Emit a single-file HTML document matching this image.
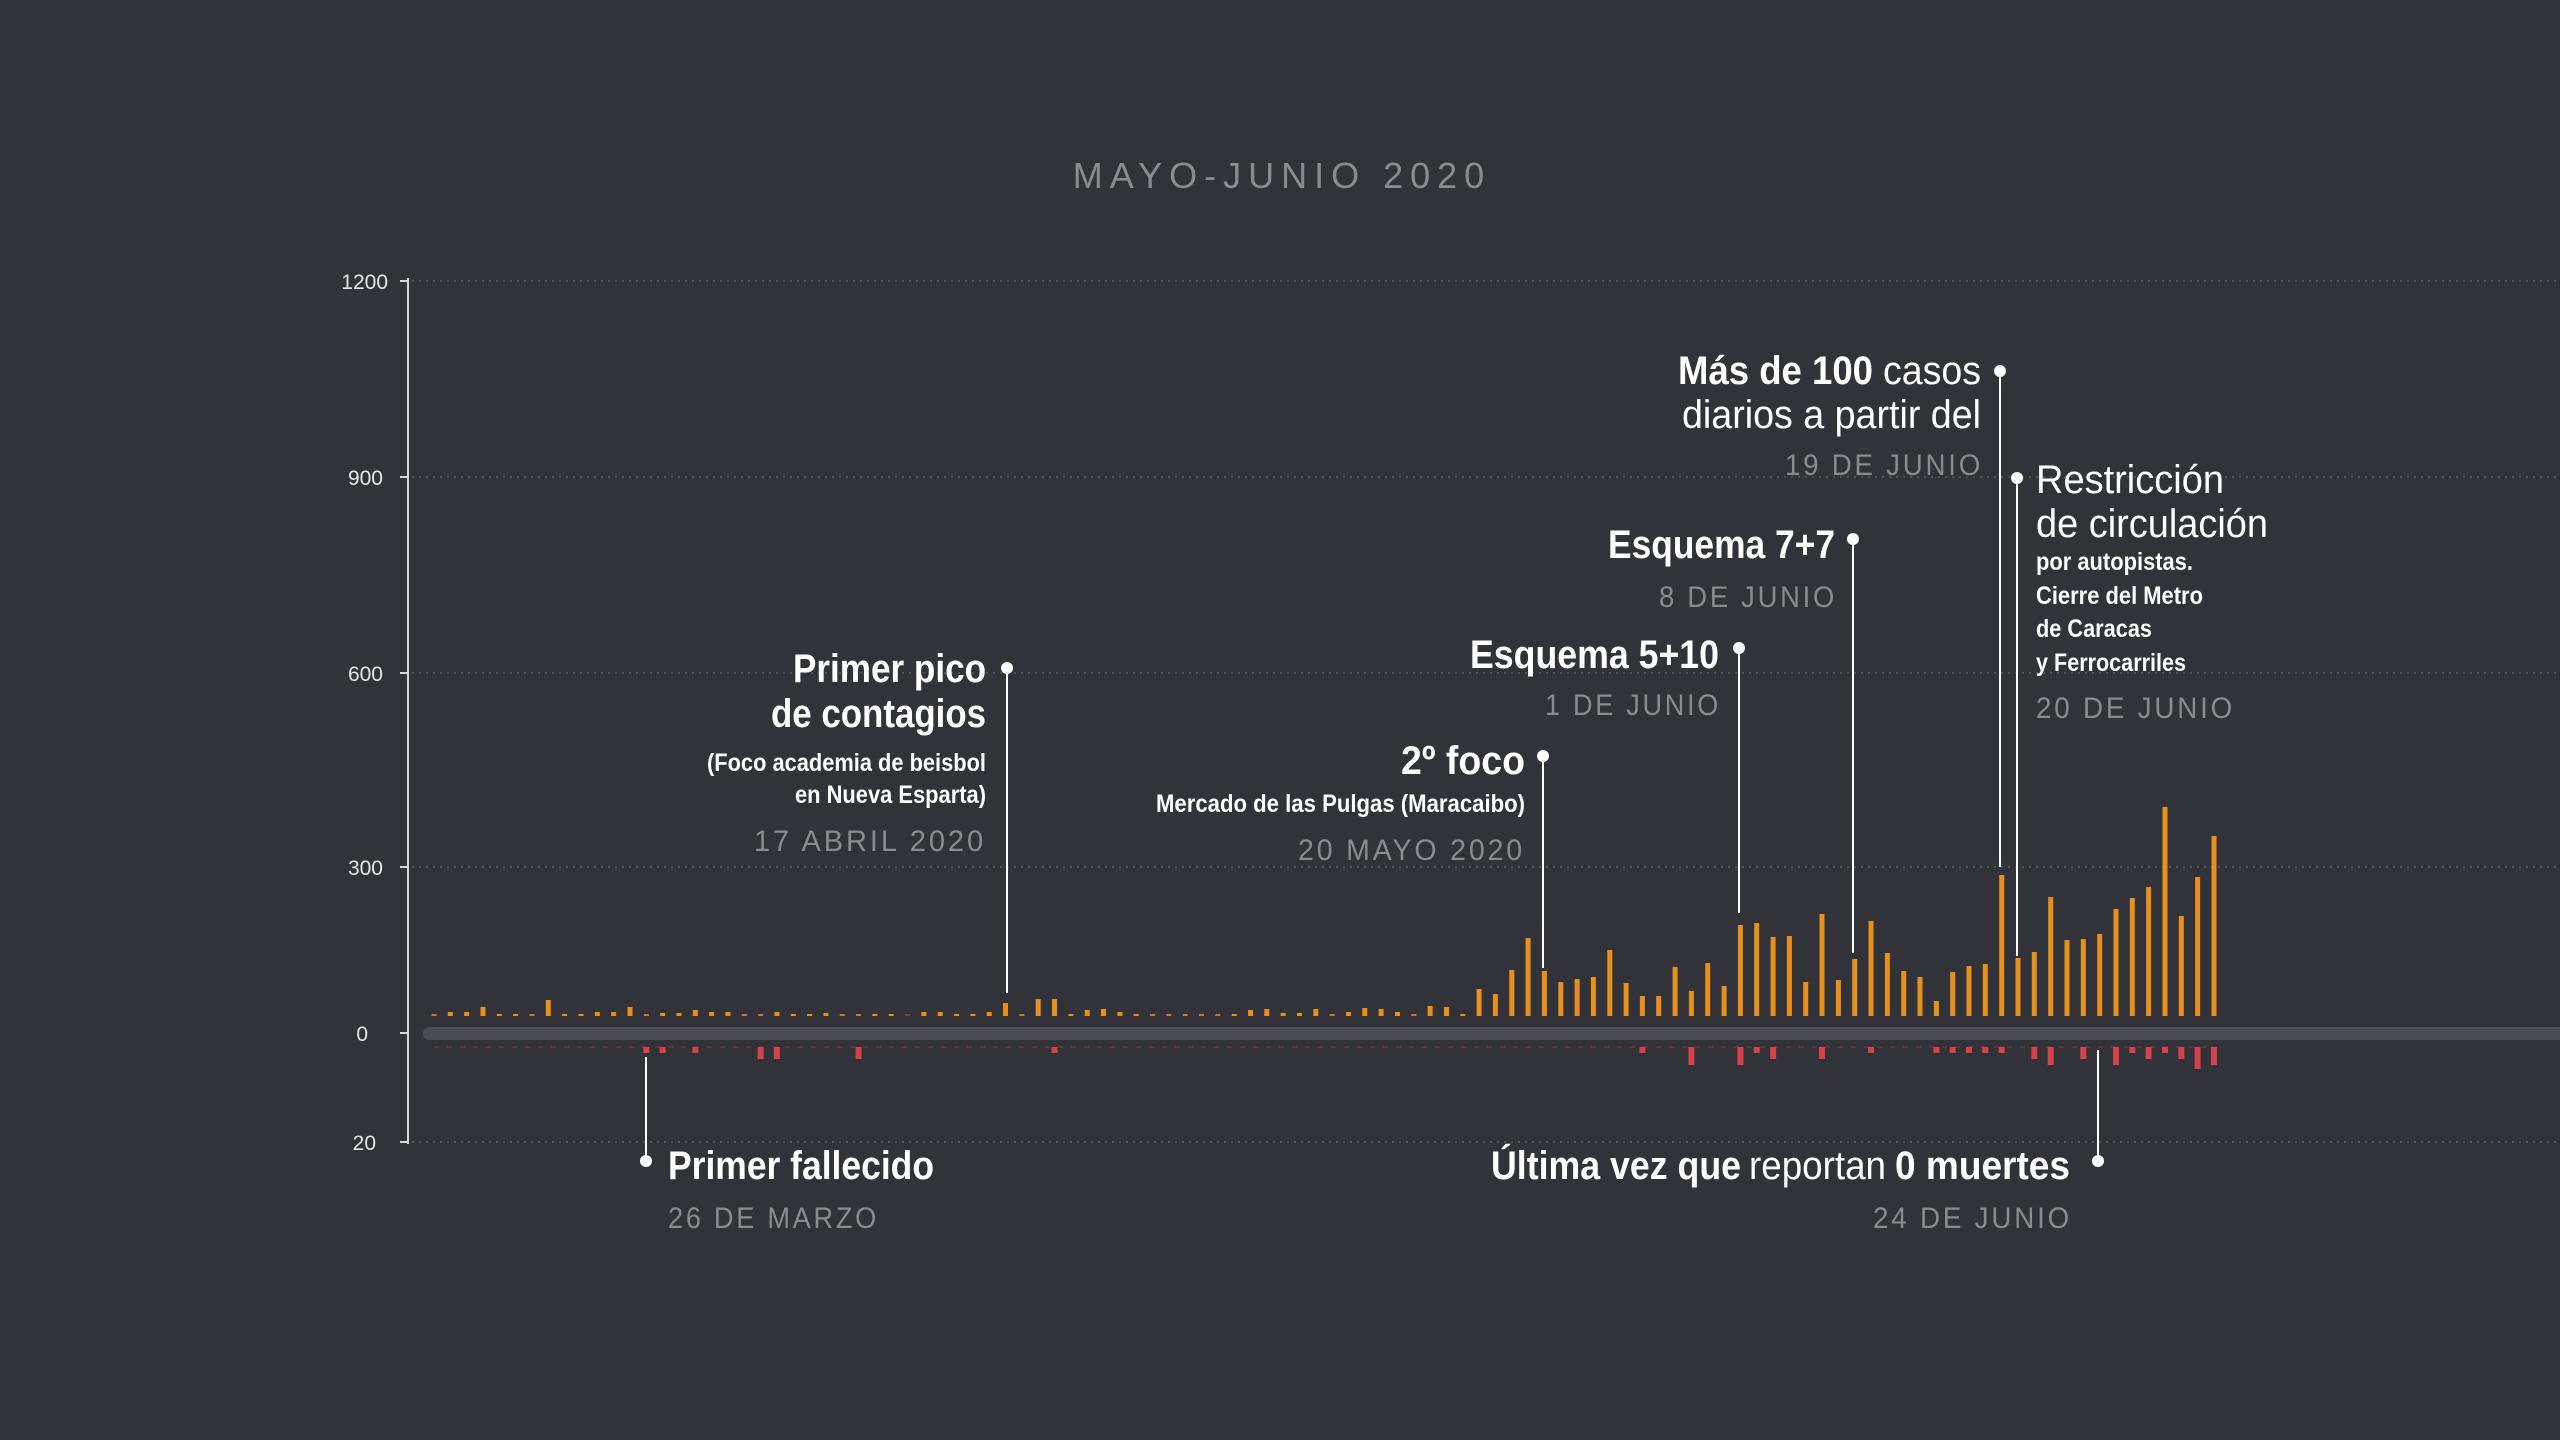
<!DOCTYPE html>
<html><head><meta charset="utf-8"><style>
html,body{margin:0;padding:0;background:#313338;}
svg{display:block}
text{font-family:"Liberation Sans",sans-serif;}
.h{fill:#fff;font-weight:bold;font-size:40px}
.n{fill:#fff;font-weight:normal;font-size:40px}
.s{fill:#fff;font-weight:bold;font-size:25px}
.d{fill:#8a8b8e;font-size:30px;letter-spacing:3px}
.ax{fill:#e6e6e6;font-size:21px}
</style></head><body>
<svg id="c" width="2560" height="1440" viewBox="0 0 2560 1440" xmlns="http://www.w3.org/2000/svg">
<rect width="2560" height="1440" fill="#313338"/>
<text x="1282" y="188" text-anchor="middle" font-size="36" fill="#8a8b8e" letter-spacing="7">MAYO-JUNIO 2020</text>
<g stroke="#5a5c61" stroke-width="1.5" stroke-dasharray="2,5">
<line x1="412" y1="281" x2="2560" y2="281"/><line x1="412" y1="477" x2="2560" y2="477"/>
<line x1="412" y1="673" x2="2560" y2="673"/><line x1="412" y1="867" x2="2560" y2="867"/>
<line x1="412" y1="1142" x2="2560" y2="1142"/>
</g>
<line x1="434" y1="1047" x2="2214" y2="1047" stroke="#6a3a3e" stroke-width="1.5" stroke-dasharray="5,8"/>
<g stroke="#d8d8d8" stroke-width="2"><line x1="408" y1="278" x2="408" y2="1144"/>
<line x1="400" y1="281" x2="408" y2="281"/><line x1="400" y1="477" x2="408" y2="477"/><line x1="400" y1="673" x2="408" y2="673"/><line x1="400" y1="867" x2="408" y2="867"/><line x1="400" y1="1033" x2="408" y2="1033"/><line x1="400" y1="1142" x2="408" y2="1142"/></g>
<g class="ax" text-anchor="end">
<text x="388" y="289" class="ax">1200</text><text x="383" y="485" class="ax">900</text><text x="383" y="681" class="ax">600</text><text x="383" y="875" class="ax">300</text><text x="368" y="1041" class="ax">0</text><text x="376" y="1150" class="ax">20</text></g>
<rect x="423" y="1027" width="2160" height="13" rx="6.5" fill="#4a4c51"/>
<g id="bars"></g>
<g stroke="#fff" stroke-width="2" fill="#fff">
<line x1="1007" y1="668" x2="1007" y2="993"/><circle cx="1007" cy="668" r="6" stroke="none"/>
<line x1="1543" y1="756" x2="1543" y2="968"/><circle cx="1543" cy="756" r="6" stroke="none"/>
<line x1="1739" y1="648" x2="1739" y2="913"/><circle cx="1739" cy="648" r="6" stroke="none"/>
<line x1="1853" y1="539" x2="1853" y2="953"/><circle cx="1853" cy="539" r="6" stroke="none"/>
<line x1="2000" y1="371" x2="2000" y2="867"/><circle cx="2000" cy="371" r="6" stroke="none"/>
<line x1="2017" y1="478" x2="2017" y2="956"/><circle cx="2017" cy="478" r="6" stroke="none"/>
<line x1="646" y1="1057" x2="646" y2="1161"/><circle cx="646" cy="1161" r="6" stroke="none"/>
<line x1="2098" y1="1050" x2="2098" y2="1161"/><circle cx="2098" cy="1161" r="6" stroke="none"/>
</g>
<g>
<text class="h" x="793" y="682" textLength="193" lengthAdjust="spacingAndGlyphs">Primer pico</text>
<text class="h" x="771" y="727" textLength="215" lengthAdjust="spacingAndGlyphs">de contagios</text>
<text class="s" x="707" y="771" textLength="279" lengthAdjust="spacingAndGlyphs">(Foco academia de beisbol</text>
<text class="s" x="795" y="803" textLength="191" lengthAdjust="spacingAndGlyphs">en Nueva Esparta)</text>
<text class="d" x="754" y="851" textLength="232" lengthAdjust="spacingAndGlyphs">17 ABRIL 2020</text>

<text class="h" x="1401" y="774" textLength="124" lengthAdjust="spacingAndGlyphs">2º foco</text>
<text class="s" x="1156" y="812" textLength="369" lengthAdjust="spacingAndGlyphs">Mercado de las Pulgas (Maracaibo)</text>
<text class="d" x="1298" y="860" textLength="227" lengthAdjust="spacingAndGlyphs">20 MAYO 2020</text>

<text class="h" x="1470" y="668" textLength="249" lengthAdjust="spacingAndGlyphs">Esquema 5+10</text>
<text class="d" x="1545" y="715" textLength="176" lengthAdjust="spacingAndGlyphs">1 DE JUNIO</text>

<text class="h" x="1608" y="558" textLength="227" lengthAdjust="spacingAndGlyphs">Esquema 7+7</text>
<text class="d" x="1659" y="607" textLength="178" lengthAdjust="spacingAndGlyphs">8 DE JUNIO</text>

<text class="h" x="1678" y="384" textLength="195" lengthAdjust="spacingAndGlyphs">Más de 100</text>
<text class="n" x="1883" y="384" textLength="98" lengthAdjust="spacingAndGlyphs">casos</text>
<text class="n" x="1682" y="428" textLength="299" lengthAdjust="spacingAndGlyphs">diarios a partir del</text>
<text class="d" x="1785" y="475" textLength="198" lengthAdjust="spacingAndGlyphs">19 DE JUNIO</text>

<text class="n" x="2036" y="493" textLength="188" lengthAdjust="spacingAndGlyphs">Restricción</text>
<text class="n" x="2036" y="537" textLength="232" lengthAdjust="spacingAndGlyphs">de circulación</text>
<text class="s" x="2036" y="570" textLength="157" lengthAdjust="spacingAndGlyphs">por autopistas.</text>
<text class="s" x="2036" y="604" textLength="167" lengthAdjust="spacingAndGlyphs">Cierre del Metro</text>
<text class="s" x="2036" y="637" textLength="116" lengthAdjust="spacingAndGlyphs">de Caracas</text>
<text class="s" x="2036" y="671" textLength="150" lengthAdjust="spacingAndGlyphs">y Ferrocarriles</text>
<text class="d" x="2036" y="718" textLength="199" lengthAdjust="spacingAndGlyphs">20 DE JUNIO</text>

<text class="h" x="668" y="1179" textLength="266" lengthAdjust="spacingAndGlyphs">Primer fallecido</text>
<text class="d" x="668" y="1228" textLength="211" lengthAdjust="spacingAndGlyphs">26 DE MARZO</text>

<text class="h" x="1491" y="1179" textLength="250" lengthAdjust="spacingAndGlyphs">Última vez que</text>
<text class="n" x="1749" y="1179" textLength="137" lengthAdjust="spacingAndGlyphs">reportan</text>
<text class="h" x="1895" y="1179" textLength="175" lengthAdjust="spacingAndGlyphs">0 muertes</text>
<text class="d" x="1873" y="1228" textLength="199" lengthAdjust="spacingAndGlyphs">24 DE JUNIO</text>
</g>
</svg>
<script>
var h=[1,4,4,9,2,2,1,16,2,2,4,4,9,1,3,3,6,4,4,1,1,4,2,2,3,1,1,2,2,0,4,4,2,2,4,13,1,17,17,2,6,7,4,2,1,1,1,1,1,2,6,7,3,3,7,1,4,8,7,4,1,10,9,2,
27,22,46,78,45,34,37,39,66,33,20,20,49,25,53,30,91,93,79,80,34,102,36,57,95,63,45,39,15,44,50,52,141,58,64,119,76,77,82,107,118,129,209,100,139,180];
var d={13:6,14:6,16:6,20:12,21:12,26:12,38:6,74:6,77:18,80:18,81:6,82:12,85:12,88:6,92:6,93:6,94:6,95:6,96:6,98:12,99:18,101:12,103:18,104:6,105:12,106:6,107:12,108:22,109:18};
var s='',base=1016;
for(var i=0;i<h.length;i++){var x=434+i*16.33-2.5;var v=h[i];
 if(h[i]<=1){s+='<rect x="'+x.toFixed(1)+'" y="'+(base-2)+'" width="5" height="2" fill="#e8901e" opacity="'+(h[i]?0.8:0.3)+'"/>';}
 else s+='<rect x="'+x.toFixed(1)+'" y="'+(base-v).toFixed(1)+'" width="5" height="'+v.toFixed(1)+'" fill="#e8901e"/>';
 if(d[i])s+='<rect x="'+(x-0.5).toFixed(1)+'" y="1047" width="6" height="'+d[i]+'" fill="#d6404a"/>';}
document.getElementById('bars').innerHTML=s;
</script>
</body></html>
